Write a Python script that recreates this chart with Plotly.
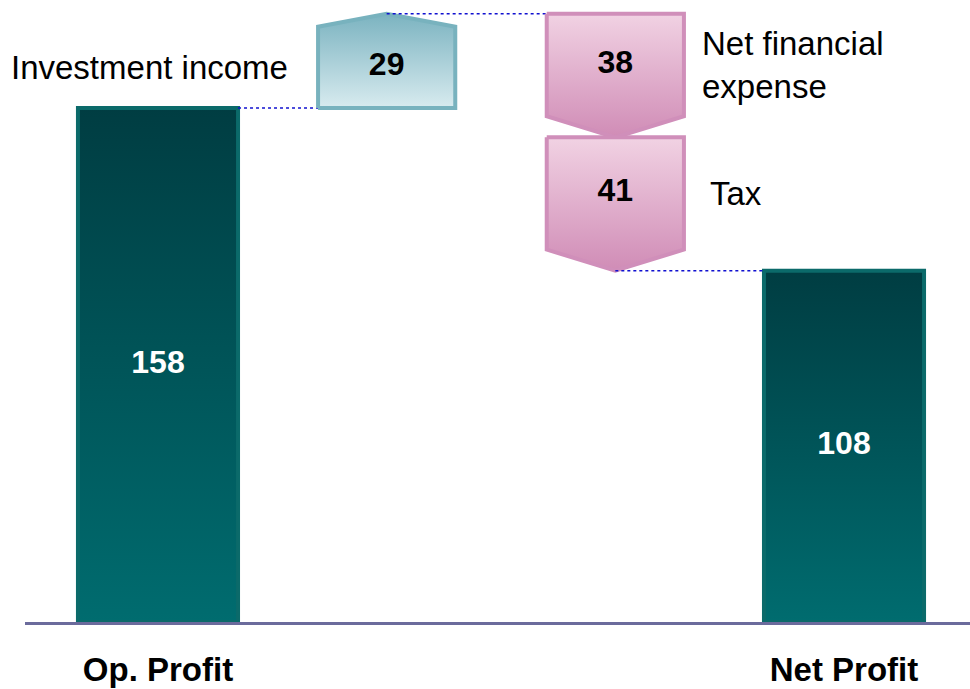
import plotly.graph_objects as go

# ---- data ----
categories = ["Op. Profit", "Investment income", "Net financial expense", "Tax", "Net Profit"]
values = [158, 29, -38, -41, 108]
kinds = ["total", "delta", "delta", "delta", "total"]
tick_labels = ["Op. Profit", "Net Profit"]

# ---- layout / style constants ----
SLOT = [0, 1, 2, 2, 3]          # horizontal slot of each category
TOTAL_W = 0.70
DELTA_W = 0.60
ARROW_UP = 4.0                   # arrow head depth (data units)
ARROW_DOWN = 6.5
Y_TOP = 190
FONT = "Liberation Sans, Arial, sans-serif"

TOTAL_FILL = [[0, "#006c6f"], [1, "#003d42"]]
TOTAL_LINE = "#0b6a6a"
UP_FILL = [[0, "#d8ebef"], [1, "#7bb3c0"]]
UP_LINE = "#78b2be"
DOWN_FILL = [[0, "#d08cb6"], [1, "#f1d2e3"]]
DOWN_LINE = "#d08fba"
CONNECT = "#1010d0"

fig = go.Figure()

running = 0
prev_anchor = None   # (x, y) where the connector starts
shapes_info = []
for cat, v, k, s in zip(categories, values, kinds, SLOT):
    if k == "total":
        l, r = s - TOTAL_W / 2, s + TOTAL_W / 2
        xs = [l, r, r, l, l]
        ys = [0, 0, v, v, 0]
        fig.add_trace(go.Scatter(
            x=xs, y=ys, mode="lines", fill="toself",
            line=dict(color=TOTAL_LINE, width=4),
            fillgradient=dict(type="vertical", colorscale=TOTAL_FILL),
            hoverinfo="skip", showlegend=False))
        fig.add_trace(go.Scatter(
            x=[s], y=[v / 2], mode="text", text=[f"<b>{v}</b>"],
            textfont=dict(family=FONT, size=32, color="white"),
            hoverinfo="skip", showlegend=False))
        if prev_anchor is not None:
            fig.add_trace(go.Scatter(
                x=[prev_anchor[0], l], y=[prev_anchor[1], prev_anchor[1]],
                mode="lines", line=dict(color=CONNECT, width=1.5, dash="dot"),
                hoverinfo="skip", showlegend=False))
        running = v
        prev_anchor = (r, v)
    else:
        start, end = running, running + v
        l, r = s - DELTA_W / 2, s + DELTA_W / 2
        if v > 0:
            shoulder = end - ARROW_UP
            fillc, linec = UP_FILL, UP_LINE
        else:
            shoulder = end + ARROW_DOWN
            fillc, linec = DOWN_FILL, DOWN_LINE
        xs = [l, r, r, s, l, l]
        ys = [start, start, shoulder, end, shoulder, start]
        if prev_anchor is not None and prev_anchor[0] < l:
            fig.add_trace(go.Scatter(
                x=[prev_anchor[0], l], y=[prev_anchor[1], prev_anchor[1]],
                mode="lines", line=dict(color=CONNECT, width=1.5, dash="dot"),
                hoverinfo="skip", showlegend=False))
        fig.add_trace(go.Scatter(
            x=xs, y=ys, mode="lines", fill="toself",
            line=dict(color=linec, width=4),
            fillgradient=dict(type="vertical", colorscale=fillc),
            hoverinfo="skip", showlegend=False))
        mid = (start + shoulder) / 2
        fig.add_trace(go.Scatter(
            x=[s], y=[mid], mode="text", text=[f"<b>{abs(v)}</b>"],
            textfont=dict(family=FONT, size=32, color="black"),
            hoverinfo="skip", showlegend=False))
        shapes_info.append((cat, v, l, r, mid))
        running = end
        prev_anchor = (s, end)

# category labels next to the delta blocks
for cat, v, l, r, mid in shapes_info:
    if v > 0:
        fig.add_annotation(x=l, y=mid, xref="x", yref="y", text=cat,
                           xanchor="right", yanchor="middle", xshift=-28,
                           showarrow=False, font=dict(family=FONT, size=33, color="black"))
    else:
        txt = cat.replace("Net financial expense", "Net financial<br>expense")
        fig.add_annotation(x=r, y=mid, xref="x", yref="y", text=txt,
                           xanchor="left", yanchor="middle", xshift=16 if "<br>" in txt else 24,
                           align="left", showarrow=False,
                           font=dict(family=FONT, size=33, color="black"))

fig.update_layout(
    width=970, height=689,
    margin=dict(l=25, r=0, t=4, b=67),
    paper_bgcolor="white", plot_bgcolor="white",
    xaxis=dict(range=[-0.5816, 3.551], showgrid=False, zeroline=False,
               showline=True, linecolor="#6b6b9c", linewidth=3,
               tickvals=[SLOT[0], SLOT[-1]],
               ticktext=[f"<b>{t}</b>" for t in tick_labels],
               ticks="outside", ticklen=16, tickcolor="rgba(0,0,0,0)",
               tickfont=dict(family=FONT, size=33, color="black"),
               fixedrange=True),
    yaxis=dict(range=[0, Y_TOP], showgrid=False, zeroline=False,
               showticklabels=False, showline=False, fixedrange=True),
    showlegend=False,
)

fig.write_html("out.html",
               config={"displayModeBar": False},
               post_script="document.body.style.margin='0';document.body.style.overflow='hidden';")
